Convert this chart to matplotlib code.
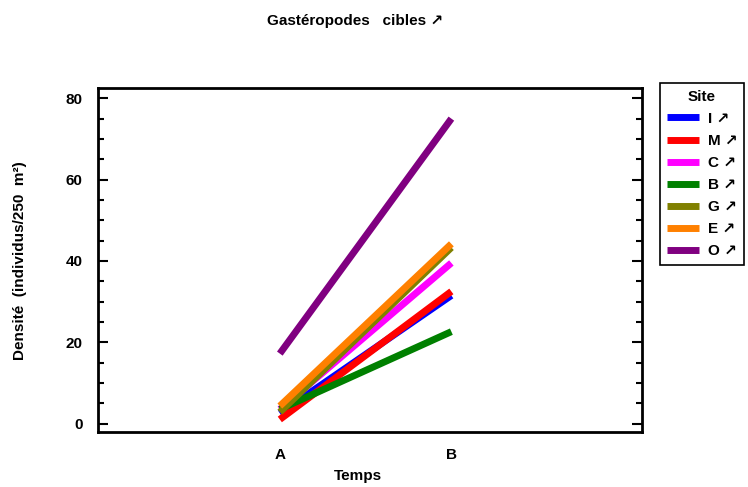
import matplotlib.pyplot as plt
from matplotlib.ticker import MultipleLocator

plt.rcParams['font.family'] = ['Liberation Sans', 'DejaVu Sans']
plt.rcParams['font.weight'] = 'bold'

# données
temps = ['A', 'B']
sites = ['I', 'M', 'C', 'B', 'G', 'E', 'O']
couleurs = ['#0000ff', '#ff0000', '#ff00ff', '#008000', '#808000', '#ff8000', '#800080']
I = [2.5, 31.5]
M = [1.0, 32.5]
C = [3.5, 39.5]
B = [3.5, 22.6]
G = [2.8, 43.3]
E = [4.3, 44.2]
O = [17.2, 75.0]
valeurs = [I, M, C, B, G, E, O]

fig = plt.figure(figsize=(7.48, 4.87), dpi=100)
ax = fig.add_axes([0.131, 0.112, 0.727, 0.707])

x = [1, 2]
for nom, val, c in zip(sites, valeurs, couleurs):
    ax.plot(x, val, color=c, lw=5, solid_capstyle='butt', label=nom + ' ↗')

ax.set_xlim(-0.06, 3.11)
ax.set_ylim(-2.2, 82.5)
ax.set_xticks(x)
ax.set_xticklabels(temps)
ax.tick_params(axis='x', length=0, pad=11, labelsize=11)
ax.yaxis.set_major_locator(MultipleLocator(20))
ax.yaxis.set_minor_locator(MultipleLocator(5))
ax.tick_params(axis='y', which='major', direction='in', length=7, width=1.5,
               right=True, labelsize=11, pad=11)
ax.tick_params(axis='y', which='minor', direction='in', length=4, width=1.5, right=True)
for s in ax.spines.values():
    s.set_linewidth(2)

fig.text(0.479, 0.022, 'Temps', ha='center', va='center', fontsize=11, fontweight='bold')
ax.set_ylabel('Densité  (individus/250  m²)', fontsize=11, fontweight='bold', labelpad=28)
fig.text(0.475, 0.957, 'Gastéropodes   cibles ↗', ha='center', va='center',
         fontsize=11, fontweight='bold')

leg = fig.legend(loc='upper left', bbox_to_anchor=(0.882, 0.83), title='Site',
                 fancybox=False, edgecolor='black', framealpha=1,
                 handlelength=2.1, handletextpad=0.6, labelspacing=0.53,
                 borderpad=0.45, borderaxespad=0,
                 prop={'weight': 'bold', 'size': 11}, title_fontsize=11)
leg.get_title().set_fontweight('bold')
leg.get_frame().set_linewidth(1.2)

fig.savefig('out.png', dpi=100)
